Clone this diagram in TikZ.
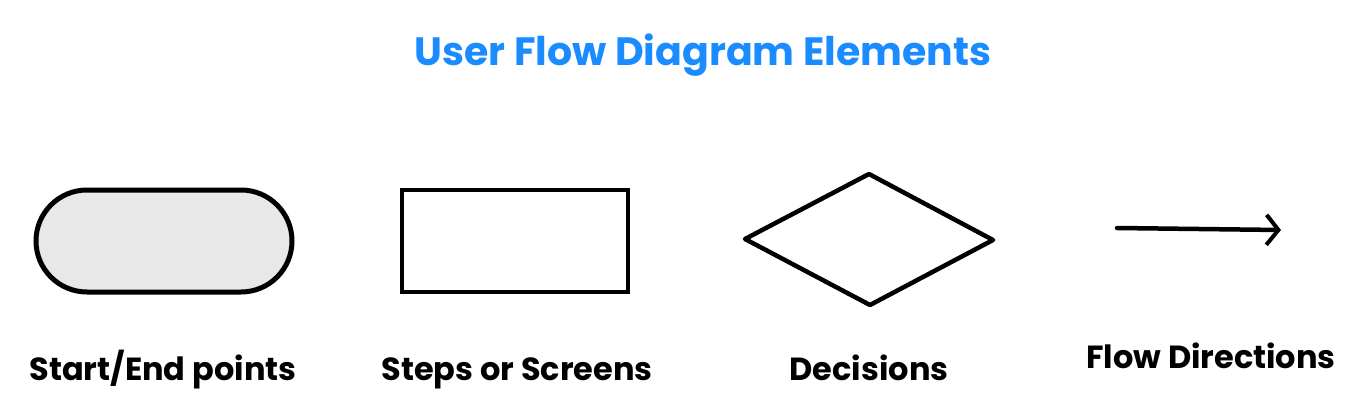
\documentclass[tikz,border=0pt]{standalone}
\usepackage{fontspec}
\setmainfont{Poppins}
\usetikzlibrary{arrows.meta}
\definecolor{titleblue}{HTML}{1A8CFF}
\definecolor{pillgray}{HTML}{E8E8E8}
\begin{document}
\begin{tikzpicture}[x=1pt,y=-1pt,
  lbl/.style={font=\fontsize{32}{36}\selectfont\fontseries{sb}\selectfont,anchor=base,inner sep=0pt},
]
\useasboundingbox (0,0) rectangle (1362,420);
\node[font=\fontsize{39.5}{44}\selectfont\fontseries{sb}\selectfont,text=titleblue,inner sep=0pt,anchor=base] (title) at (703,66) {User Flow Diagram Elements};
% pill
\node[draw,line width=5pt,fill=pillgray,rounded corners=51pt,minimum width=256pt,minimum height=102pt,inner sep=0pt] (pill) at (164,241) {};
% rectangle
\node[draw,line width=4.5pt,minimum width=226pt,minimum height=102pt,inner sep=0pt] (step) at (515,241) {};
% diamond
\coordinate (dl) at (745,239);
\coordinate (dt) at (869,174);
\coordinate (dr) at (993,240);
\coordinate (db) at (870,305);
\draw[line width=4.5pt,line join=round] (dl) -- (dt) -- (dr) -- (db) -- cycle;
% arrow
\coordinate (a1) at (1117,228);
\coordinate (a2) at (1281,230);
\draw[line width=4.5pt,line cap=round,-{Straight Barb[length=12pt,width=30pt,line width=4pt]}] (a1) -- (a2);
% labels
\node[lbl] (l1) at (163,380) {Start/End points};
\node[lbl] (l2) at (517,380) {Steps or Screens};
\node[lbl] (l3) at (869,380) {Decisions};
\node[lbl] (l4) at (1211,368) {Flow Directions};
\end{tikzpicture}
\end{document}
